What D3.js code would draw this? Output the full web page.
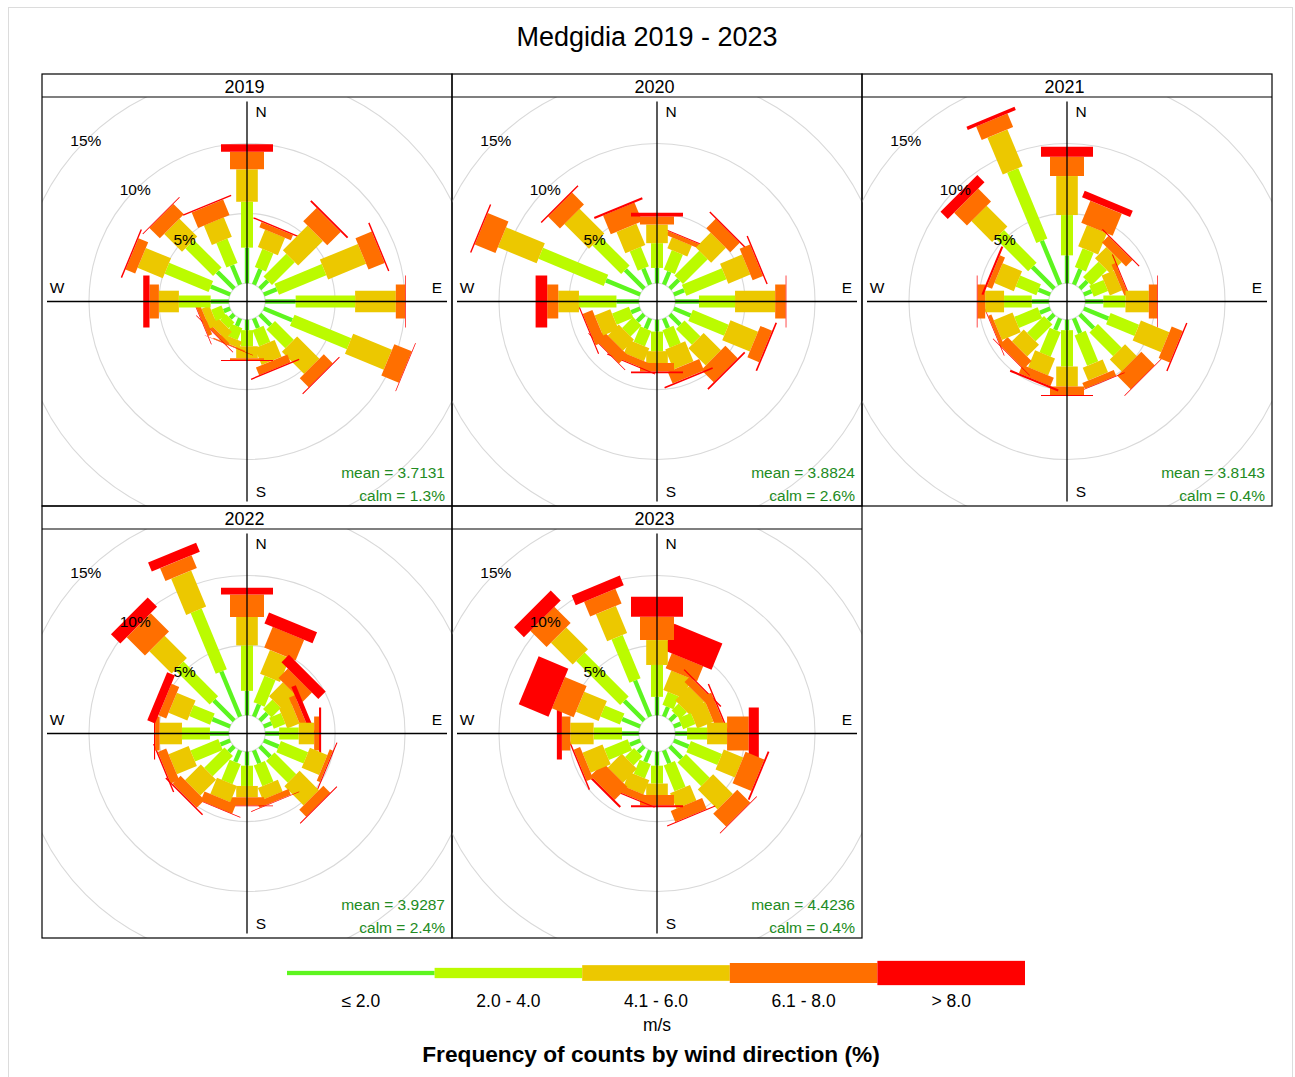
<!DOCTYPE html>
<html>
<head>
<meta charset="utf-8">
<script src="https://cdnjs.cloudflare.com/ajax/libs/d3/7.8.5/d3.min.js"></script>
<style>
  body { margin: 0; background: #fff; }
  text { font-family: "Liberation Sans", Arial, Helvetica, sans-serif; }
</style>
</head>
<body>
<svg id="chart" width="1295" height="1077"></svg>
<script>
// wind direction categories (N first, clockwise)
var directions = ["N", "NNE", "NE", "ENE", "E", "ESE", "SE", "SSE", "S", "SSW", "SW", "WSW", "W", "WNW", "NW", "NNW"];
var dirAngles = [0, 22.5, 45, 67.5, 90, 112.5, 135, 157.5, 180, 202.5, 225, 247.5, 270, 292.5, 315, 337.5];
var years = ["2019", "2020", "2021", "2022", "2023"];
var speedBins = ["\u2264 2.0", "2.0 - 4.0", "4.1 - 6.0", "6.1 - 8.0", "> 8.0"];
var binColours = ["#5df51f", "#bbfb00", "#ecc800", "#ff6f00", "#ff0000"];
var pctTicks = [5, 10, 15];
var meanSpeed = ["3.7131", "3.8824", "3.8143", "3.9287", "4.4236"];
var calmPct = [1.3, 2.6, 0.4, 2.4, 0.4];

// frequency (%) per direction, one column per speed bin
var freq2019 = [
  [2.55, 3.28, 2.32, 1.26, 0.53],
  [1.20, 1.40, 1.35, 0.40, 0.10],
  [0.80, 2.30, 2.50, 1.35, 0.13],
  [1.00, 3.66, 2.94, 1.25, 0.10],
  [2.18, 4.25, 2.91, 0.66, 0.05],
  [2.20, 4.40, 3.00, 1.35, 0.05],
  [1.10, 1.90, 2.25, 0.90, 0.07],
  [0.75, 1.25, 1.30, 0.60, 0.10],
  [0.75, 1.15, 0.85, 0.13, 0.07],
  [0.60, 0.90, 0.50, 0.08, 0.02],
  [0.40, 0.60, 0.70, 0.25, 0.05],
  [0.50, 0.80, 0.60, 0.30, 0.05],
  [1.30, 2.27, 1.43, 0.67, 0.45],
  [1.50, 3.40, 1.95, 0.75, 0.10],
  [1.70, 2.80, 1.80, 1.05, 0.07],
  [1.50, 1.90, 1.50, 1.20, 0.10]
];
var freq2020 = [
  [1.10, 1.77, 1.33, 0.58, 0.27],
  [1.00, 1.50, 0.85, 0.30, 0.07],
  [0.90, 2.50, 1.50, 0.95, 0.10],
  [0.80, 3.10, 1.70, 0.80, 0.10],
  [1.70, 2.58, 2.87, 0.75, 0.05],
  [1.30, 2.77, 2.13, 0.90, 0.12],
  [1.05, 1.60, 1.75, 1.25, 0.12],
  [0.75, 1.35, 1.55, 0.90, 0.12],
  [0.85, 1.40, 0.85, 0.60, 0.13],
  [0.80, 1.20, 1.00, 0.50, 0.07],
  [0.70, 1.10, 1.10, 0.85, 0.05],
  [0.70, 1.30, 1.20, 0.75, 0.08],
  [1.60, 2.68, 1.48, 0.79, 0.83],
  [2.65, 5.05, 3.00, 1.60, 0.10],
  [1.90, 2.90, 2.50, 1.20, 0.10],
  [1.25, 1.50, 1.65, 1.45, 0.15]
];
var freq2021 = [
  [2.00, 2.88, 2.79, 1.38, 0.72],
  [1.20, 1.45, 1.65, 1.70, 0.50],
  [0.75, 1.55, 1.15, 0.65, 0.08],
  [0.60, 1.10, 0.95, 0.30, 0.07],
  [1.30, 1.58, 1.67, 0.60, 0.05],
  [1.90, 2.20, 2.20, 0.85, 0.10],
  [1.40, 2.40, 1.20, 1.35, 0.05],
  [1.15, 2.35, 1.00, 0.45, 0.05],
  [0.75, 2.60, 1.43, 0.60, 0.07],
  [0.90, 1.90, 1.30, 0.65, 0.15],
  [0.60, 1.70, 1.20, 0.80, 0.05],
  [0.80, 1.80, 1.45, 0.25, 0.05],
  [1.22, 1.98, 1.35, 0.55, 0.05],
  [0.90, 1.60, 1.50, 0.40, 0.15],
  [2.20, 3.30, 2.10, 1.30, 0.73],
  [3.40, 5.44, 2.86, 1.05, 0.25]
];
var freq2022 = [
  [1.75, 3.25, 2.03, 1.60, 0.50],
  [0.95, 2.05, 1.85, 1.60, 0.85],
  [0.75, 0.95, 1.40, 0.95, 0.75],
  [0.60, 0.90, 0.95, 0.45, 0.35],
  [1.00, 1.40, 1.10, 0.35, 0.15],
  [1.15, 2.10, 1.35, 0.25, 0.08],
  [1.05, 2.20, 1.95, 0.70, 0.07],
  [1.00, 1.60, 0.90, 0.45, 0.05],
  [1.00, 1.45, 0.80, 0.60, 0.05],
  [0.90, 1.55, 1.25, 0.70, 0.05],
  [0.55, 2.05, 1.60, 0.80, 0.10],
  [0.75, 2.15, 1.55, 0.65, 0.10],
  [1.35, 2.00, 1.60, 0.32, 0.08],
  [1.38, 1.62, 1.45, 0.60, 0.60],
  [2.05, 3.50, 2.25, 1.85, 0.95],
  [3.50, 4.70, 2.80, 1.00, 0.70]
];
var freq2023 = [
  [1.32, 2.28, 1.78, 1.67, 1.43],
  [0.75, 1.00, 1.50, 1.15, 2.03],
  [0.60, 0.70, 1.40, 0.55, 0.10],
  [0.55, 0.95, 1.25, 0.65, 0.10],
  [0.85, 1.43, 1.43, 1.55, 0.72],
  [1.15, 2.40, 1.50, 1.45, 0.13],
  [1.20, 2.40, 2.00, 1.30, 0.06],
  [1.00, 2.00, 1.20, 0.85, 0.07],
  [1.00, 1.28, 0.82, 0.73, 0.14],
  [0.90, 1.10, 1.10, 0.50, 0.08],
  [0.60, 0.90, 1.40, 1.30, 0.15],
  [0.80, 1.80, 1.55, 0.50, 0.10],
  [1.20, 2.03, 1.67, 0.60, 0.36],
  [1.40, 1.50, 1.75, 1.68, 2.30],
  [2.00, 4.45, 2.20, 1.65, 1.00],
  [2.80, 3.35, 2.10, 1.15, 0.75]
];
var yearFreqs = [freq2019, freq2020, freq2021, freq2022, freq2023];

(function(){
  var rose = {};

  rose.gridLeft = 42;
  rose.gridTop = 74;
  rose.panelWidth = 410;
  rose.stripHeight = 23;
  rose.plotHeight = 409;
  rose.columns = 3;
  rose.upper = 200;
  rose.halfWidths = [2.2, 6, 10.8, 17, 26];
  rose.keyHeights = [4.3, 10.3, 15.7, 20, 24.3];

  var svg = d3.select("#chart");

  // longest bar over all panels sets the radial scale (openair style offset of 10%)
  var maxFreq = d3.max(yearFreqs, function(f) { return d3.max(f, function(row) { return d3.sum(row); }); });
  var offSet = maxFreq * 0.1;
  var rScale = d3.scaleLinear().domain([-offSet, maxFreq]).range([0, rose.upper]);

  svg.append("rect")
    .attr("x", 8.5).attr("y", 7.5)
    .attr("width", 1284).attr("height", 1085)
    .style("fill", "none").style("stroke", "#dcdcdc");

  svg.append("text")
    .attr("x", 647).attr("y", 46)
    .attr("text-anchor", "middle")
    .style("font-size", "27px")
    .text("Medgidia 2019 - 2023");

  var defs = svg.append("defs");

  rose.barPoints = function(angle, r1, r2, w) {
    var t = angle * Math.PI / 180;
    var ux = Math.sin(t), uy = -Math.cos(t);
    var px = Math.cos(t), py = Math.sin(t);
    return [
      [r1 * ux - w * px, r1 * uy - w * py],
      [r1 * ux + w * px, r1 * uy + w * py],
      [r2 * ux + w * px, r2 * uy + w * py],
      [r2 * ux - w * px, r2 * uy - w * py]
    ].map(function(p) { return p[0].toFixed(2) + "," + p[1].toFixed(2); }).join(" ");
  };

  rose.drawPanel = function(i) {
    var col = i % rose.columns, row = Math.floor(i / rose.columns);
    var x0 = rose.gridLeft + col * rose.panelWidth;
    var y0 = rose.gridTop + row * (rose.stripHeight + rose.plotHeight);
    var plotTop = y0 + rose.stripHeight;
    var cx = x0 + rose.panelWidth / 2;
    var cy = plotTop + rose.plotHeight / 2;

    defs.append("clipPath").attr("id", "clip" + i)
      .append("rect")
      .attr("x", x0).attr("y", plotTop)
      .attr("width", rose.panelWidth).attr("height", rose.plotHeight);

    var g = svg.append("g").attr("clip-path", "url(#clip" + i + ")");
    var c = g.append("g").attr("transform", "translate(" + cx + "," + cy + ")");

    c.selectAll("circle.grid")
      .data([0].concat(pctTicks))
      .enter().append("circle")
      .attr("r", function(d) { return rScale(d); })
      .style("fill", "none")
      .style("stroke", "#d9d9d9")
      .style("stroke-width", 1.1);

    // bars: openair draws 22.5 ... 360, N last
    var freqs = yearFreqs[i];
    var order = d3.range(1, directions.length).concat([0]);
    order.forEach(function(k) {
      var cum = 0;
      freqs[k].forEach(function(v, j) {
        var r1 = rScale(cum);
        cum += v;
        var r2 = rScale(cum);
        c.append("polygon")
          .attr("points", rose.barPoints(dirAngles[k], r1, r2, rose.halfWidths[j]))
          .style("fill", binColours[j]);
      });
    });

    var up = rose.upper;
    c.append("line").attr("x1", -up).attr("x2", up).attr("y1", 0).attr("y2", 0)
      .style("stroke", "#000").style("stroke-width", 1.3);
    c.append("line").attr("x1", 0).attr("x2", 0).attr("y1", -up).attr("y2", up)
      .style("stroke", "#000").style("stroke-width", 1.3);

    var compass = [
      { t: "N", x: 0.07 * up, y: -0.95 * up },
      { t: "E", x: 0.95 * up, y: -0.07 * up },
      { t: "S", x: 0.07 * up, y: 0.95 * up },
      { t: "W", x: -0.95 * up, y: -0.07 * up }
    ];
    c.selectAll("text.compass").data(compass).enter().append("text")
      .attr("x", function(d) { return d.x; })
      .attr("y", function(d) { return d.y; })
      .attr("text-anchor", "middle")
      .attr("dominant-baseline", "central")
      .style("font-size", "15.5px")
      .text(function(d) { return d.t; });

    var a = 315 * Math.PI / 180;
    c.selectAll("text.pct").data(pctTicks).enter().append("text")
      .attr("x", function(d) { return rScale(d) * Math.sin(a); })
      .attr("y", function(d) { return -rScale(d) * Math.cos(a); })
      .attr("text-anchor", "middle")
      .attr("dominant-baseline", "central")
      .style("font-size", "15.5px")
      .text(function(d) { return d + "%"; });

    c.append("text")
      .attr("x", up - 2).attr("y", 176.5)
      .attr("text-anchor", "end")
      .style("font-size", "15.5px").style("fill", "#228b22")
      .text("mean = " + meanSpeed[i]);
    c.append("text")
      .attr("x", up - 2).attr("y", 199.5)
      .attr("text-anchor", "end")
      .style("font-size", "15.5px").style("fill", "#228b22")
      .text("calm = " + calmPct[i] + "%");

    // strip + frame
    svg.append("rect")
      .attr("x", x0).attr("y", y0)
      .attr("width", rose.panelWidth).attr("height", rose.stripHeight + rose.plotHeight)
      .style("fill", "none").style("stroke", "#000").style("stroke-width", 1.2);
    svg.append("line")
      .attr("x1", x0).attr("x2", x0 + rose.panelWidth)
      .attr("y1", plotTop).attr("y2", plotTop)
      .style("stroke", "#000").style("stroke-width", 1.2);
    svg.append("text")
      .attr("x", cx - 2.5).attr("y", y0 + rose.stripHeight / 2 + 1)
      .attr("text-anchor", "middle")
      .attr("dominant-baseline", "central")
      .style("font-size", "18px")
      .text(years[i]);
  };

  rose.drawKey = function() {
    var kx = d3.scaleBand().domain(speedBins).range([287, 1025]);
    var key = svg.append("g");
    key.selectAll("rect").data(speedBins).enter().append("rect")
      .attr("x", function(d) { return kx(d); })
      .attr("width", kx.bandwidth())
      .attr("y", function(d, j) { return 973 - rose.keyHeights[j] / 2; })
      .attr("height", function(d, j) { return rose.keyHeights[j]; })
      .style("fill", function(d, j) { return binColours[j]; });
    key.selectAll("text.lab").data(speedBins).enter().append("text")
      .attr("x", function(d) { return kx(d) + kx.bandwidth() / 2; })
      .attr("y", 1006.5)
      .attr("text-anchor", "middle")
      .style("font-size", "17.5px")
      .text(function(d) { return d; });
    key.append("text")
      .attr("x", 657).attr("y", 1031)
      .attr("text-anchor", "middle")
      .style("font-size", "17.5px")
      .text("m/s");
    key.append("text")
      .attr("x", 651).attr("y", 1062)
      .attr("text-anchor", "middle")
      .style("font-size", "22.7px").style("font-weight", "bold")
      .text("Frequency of counts by wind direction (%)");
  };

  years.forEach(function(y, i) { rose.drawPanel(i); });
  rose.drawKey();

  this.rose = rose;
})();
</script>
</body>
</html>
